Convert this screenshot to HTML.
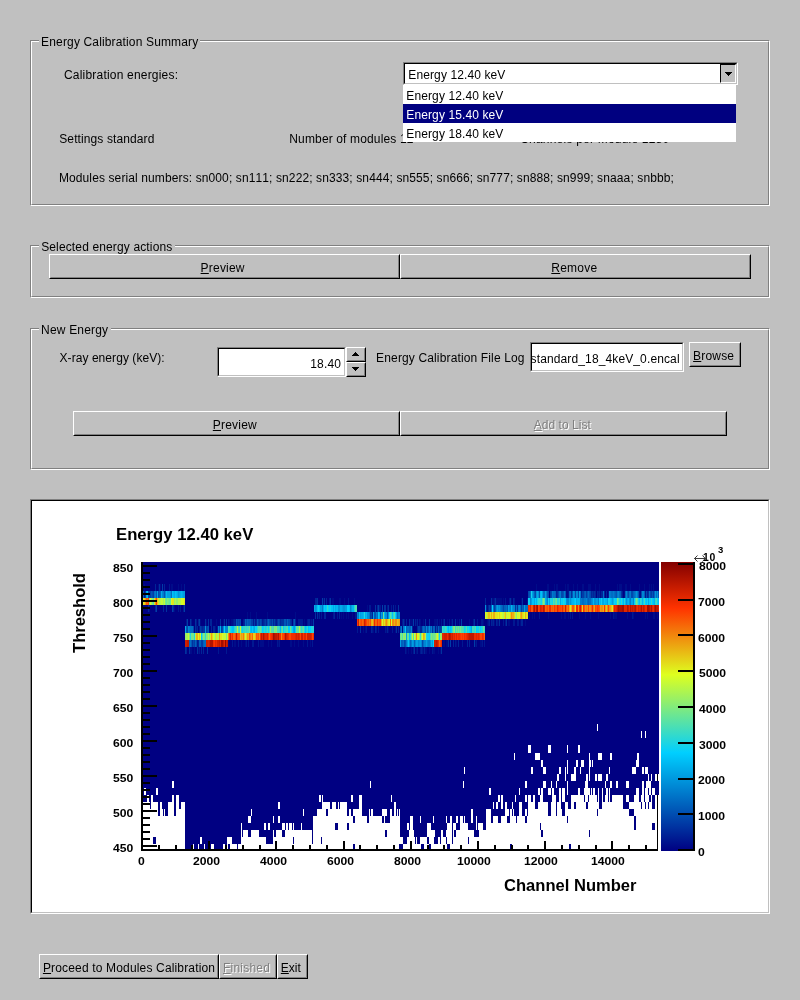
<!DOCTYPE html>
<html><head><meta charset="utf-8"><title>Energy Calibration</title>
<style>
html,body{margin:0;padding:0}
body{width:800px;height:1000px;background:#c0c0c0;position:relative;overflow:hidden;
 font-family:"Liberation Sans",sans-serif;font-size:12px;color:#000;font-kerning:none;font-variant-ligatures:none;text-rendering:optimizeSpeed}
#w{position:absolute;left:0;top:0;width:800px;height:1000px;will-change:transform}
.t{position:absolute;white-space:nowrap}
.grp{position:absolute;box-sizing:border-box;border:1px solid #808080;border-right-color:#fff;border-bottom-color:#fff}
.grp:before{content:"";position:absolute;left:0;top:0;right:0;bottom:0;border:1px solid #fff;border-right-color:#808080;border-bottom-color:#808080}
.gap{position:absolute;background:#c0c0c0;height:2px}
.btn{position:absolute;box-sizing:border-box;border:1px solid #fff;border-right-color:#000;border-bottom-color:#000}
.btn:before{content:"";position:absolute;left:0;top:0;right:0;bottom:0;border:1px solid #c0c0c0;border-right-color:#808080;border-bottom-color:#808080}
.dis{color:#808080;text-shadow:1px 1px 0 #fff}
u{text-decoration:underline;text-decoration-thickness:1px;text-underline-offset:1px;text-decoration-skip-ink:none}
.sunk{position:absolute;box-sizing:border-box;border:1px solid #808080;border-right-color:#fff;border-bottom-color:#fff;background:#fff}
.sunk:before{content:"";position:absolute;left:0;top:0;right:0;bottom:0;border:1px solid #000;border-right-color:#c0c0c0;border-bottom-color:#c0c0c0}
</style></head><body><div id="w">

<div class="grp" style="left:30px;top:40px;width:740px;height:166px"></div>
<div class="gap" style="left:39px;top:40px;width:161px"></div>
<div class="t" style="left:41.12px;top:35px;font-size:12px;line-height:14px;height:14px;letter-spacing:0.149px;">Energy Calibration Summary</div>
<div class="t" style="left:63.99px;top:68px;font-size:12px;line-height:14px;height:14px;letter-spacing:0.198px;">Calibration energies:</div>
<div class="t" style="left:59.26px;top:132px;font-size:12px;line-height:14px;height:14px;letter-spacing:0.105px;">Settings standard</div>
<div class="t" style="left:289.32px;top:132px;font-size:12px;line-height:14px;height:14px;letter-spacing:0.140px;">Number of modules 12</div>
<div class="t" style="left:520.19px;top:132px;font-size:12px;line-height:14px;height:14px;letter-spacing:0.214px;">Channels per Module 1280</div>
<div class="t" style="left:58.92px;top:171px;font-size:12px;line-height:14px;height:14px;letter-spacing:0.112px;">Modules serial numbers: sn000; sn111; sn222; sn333; sn444; sn555; sn666; sn777; sn888; sn999; snaaa; snbbb;</div>
<div class="sunk" style="left:403px;top:62px;width:335px;height:23px"></div>
<div class="t" style="left:408.32px;top:68px;font-size:12px;line-height:14px;height:14px;letter-spacing:0.110px;">Energy 12.40 keV</div>
<div style="position:absolute;left:720px;top:64px;width:16px;height:19px;box-sizing:border-box;background:#c0c0c0;border:1px solid #000;border-right-color:#fff;border-bottom-color:#fff"></div>
<svg style="position:absolute;left:725px;top:72px" width="7" height="4" shape-rendering="crispEdges"><path d="M0 0h7v1h-1v1h-1v1h-1v1h-1v-1h-1v-1h-1v-1h-1z" fill="#000"/></svg>
<div style="position:absolute;left:403px;top:85px;width:333px;height:57px;background:#fff"></div>
<div style="position:absolute;left:403px;top:104px;width:333px;height:19px;background:#000080"></div>
<div class="t" style="left:406.32px;top:89px;font-size:12px;line-height:14px;height:14px;letter-spacing:0.110px;">Energy 12.40 keV</div>
<div class="t" style="left:406.32px;top:108px;font-size:12px;line-height:14px;height:14px;letter-spacing:0.110px;color:#fff;">Energy 15.40 keV</div>
<div class="t" style="left:406.32px;top:127px;font-size:12px;line-height:14px;height:14px;letter-spacing:0.110px;">Energy 18.40 keV</div>
<div class="grp" style="left:30px;top:245px;width:740px;height:53px"></div>
<div class="gap" style="left:39px;top:245px;width:136px"></div>
<div class="t" style="left:41.16px;top:240px;font-size:12px;line-height:14px;height:14px;letter-spacing:0.137px;">Selected energy actions</div>
<div class="btn " style="left:49px;top:254px;width:351px;height:25px"></div>
<div class="btn " style="left:400px;top:254px;width:351px;height:25px"></div>
<div class="t" style="left:200.62px;top:261px;font-size:12px;line-height:14px;height:14px;letter-spacing:0.199px;"><u>P</u>review</div>
<div class="t" style="left:551.32px;top:261px;font-size:12px;line-height:14px;height:14px;letter-spacing:0.229px;"><u>R</u>emove</div>
<div class="grp" style="left:30px;top:328px;width:740px;height:142px"></div>
<div class="gap" style="left:39px;top:328px;width:72px"></div>
<div class="t" style="left:41.12px;top:323px;font-size:12px;line-height:14px;height:14px;letter-spacing:0.174px;">New Energy</div>
<div class="t" style="left:59.53px;top:351px;font-size:12px;line-height:14px;height:14px;letter-spacing:0.061px;">X-ray energy (keV):</div>
<div class="sunk" style="left:217px;top:347px;width:129px;height:30px"></div>
<div class="t" style="left:310.19px;top:357px;font-size:12px;line-height:14px;height:14px;letter-spacing:0.204px;">18.40</div>
<div class="btn " style="left:346px;top:347px;width:20px;height:15px"></div>
<div class="btn " style="left:346px;top:362px;width:20px;height:15px"></div>
<svg style="position:absolute;left:352px;top:352px" width="7" height="4" shape-rendering="crispEdges"><path d="M3 0h1v1h1v1h1v1h1v1h-7v-1h1v-1h1v-1h1z" fill="#000"/></svg>
<svg style="position:absolute;left:352px;top:367px" width="7" height="4" shape-rendering="crispEdges"><path d="M0 0h7v1h-1v1h-1v1h-1v1h-1v-1h-1v-1h-1v-1h-1z" fill="#000"/></svg>
<div class="t" style="left:376.12px;top:351px;font-size:12px;line-height:14px;height:14px;letter-spacing:0.140px;">Energy Calibration File Log</div>
<div class="sunk" style="left:530px;top:342px;width:154px;height:30px"></div>
<div style="position:absolute;left:532px;top:344px;width:150px;height:26px;overflow:hidden">
<div class="t" style="left:-1.43px;top:8px;font-size:12px;line-height:14px;height:14px;letter-spacing:0.125px;">standard_18_4keV_0.encal</div>
</div>
<div class="btn " style="left:689px;top:342px;width:52px;height:25px"></div>
<div class="t" style="left:693.12px;top:349px;font-size:12px;line-height:14px;height:14px;letter-spacing:0.174px;"><u>B</u>rowse</div>
<div class="btn " style="left:73px;top:411px;width:327px;height:25px"></div>
<div class="btn " style="left:400px;top:411px;width:327px;height:25px"></div>
<div class="t" style="left:212.82px;top:418px;font-size:12px;line-height:14px;height:14px;letter-spacing:0.199px;"><u>P</u>review</div>
<div class="t dis" style="left:533.78px;top:418px;font-size:12px;line-height:14px;height:14px;letter-spacing:0.037px;"><u>A</u>dd to List</div>
<div class="sunk" style="left:30px;top:499px;width:740px;height:415px"></div>
<svg width="800" height="1000" style="position:absolute;left:0;top:0" shape-rendering="crispEdges">
<defs><linearGradient id="cb" x1="0" y1="1" x2="0" y2="0">
<stop offset="0" stop-color="#000082"/>
<stop offset="0.34" stop-color="#00cfff"/>
<stop offset="0.61" stop-color="#deff1f"/>
<stop offset="0.84" stop-color="#ff3300"/>
<stop offset="1" stop-color="#820000"/>
</linearGradient></defs>
<rect x="142" y="562" width="517" height="289" fill="#000082"/>
<path fill="#000c89" d="M144 584h1v7h-1zM158 584h1v7h-1zM160 584h1v7h-1zM171 584h2v7h-2zM178 584h1v7h-1zM181 584h1v7h-1zM536 584h1v7h-1zM547 584h2v7h-2zM554 584h1v7h-1zM556 584h2v7h-2zM565 584h1v7h-1zM567 584h2v7h-2zM573 584h1v7h-1zM577 584h1v7h-1zM582 584h2v7h-2zM588 584h3v7h-3zM595 584h1v7h-1zM599 584h1v7h-1zM617 584h1v7h-1zM619 584h3v7h-3zM625 584h2v7h-2zM630 584h1v7h-1zM639 584h1v7h-1zM644 584h1v7h-1zM649 584h1v7h-1zM651 584h1v7h-1zM653 584h1v7h-1zM566 591h2v7h-2zM600 591h1v7h-1zM624 591h1v7h-1zM640 591h1v7h-1zM323 598h1v7h-1zM332 598h2v7h-2zM339 598h2v7h-2zM344 598h1v7h-1zM354 598h1v7h-1zM492 598h2v7h-2zM496 598h6v7h-6zM503 598h1v7h-1zM511 598h1v7h-1zM521 598h1v7h-1zM149 605h1v7h-1zM174 605h1v7h-1zM367 605h1v7h-1zM487 605h1v7h-1zM247 612h1v7h-1zM250 612h1v7h-1zM256 612h1v7h-1zM267 612h1v7h-1zM295 612h1v7h-1zM318 612h1v7h-1zM341 612h1v7h-1zM343 612h1v7h-1zM346 612h1v7h-1zM348 612h1v7h-1zM352 612h1v7h-1zM529 612h1v7h-1zM532 612h1v7h-1zM534 612h1v7h-1zM548 612h1v7h-1zM561 612h1v7h-1zM564 612h2v7h-2zM568 612h1v7h-1zM579 612h1v7h-1zM585 612h1v7h-1zM590 612h1v7h-1zM598 612h1v7h-1zM610 612h1v7h-1zM614 612h3v7h-3zM627 612h1v7h-1zM633 612h1v7h-1zM645 612h1v7h-1zM647 612h1v7h-1zM653 612h2v7h-2zM657 612h1v7h-1zM200 619h1v7h-1zM206 619h1v7h-1zM216 619h1v7h-1zM223 619h1v7h-1zM229 619h1v7h-1zM231 619h2v7h-2zM304 619h1v7h-1zM310 619h1v7h-1zM312 619h1v7h-1zM410 619h3v7h-3zM416 619h1v7h-1zM420 619h1v7h-1zM423 619h1v7h-1zM434 619h3v7h-3zM439 619h1v7h-1zM447 619h1v7h-1zM451 619h1v7h-1zM457 619h1v7h-1zM469 619h1v7h-1zM483 619h1v7h-1zM487 619h1v7h-1zM494 619h1v7h-1zM498 619h1v7h-1zM508 619h2v7h-2zM520 619h1v7h-1zM525 619h1v7h-1zM215 626h1v7h-1zM363 626h1v7h-1zM365 626h1v7h-1zM373 626h1v7h-1zM386 626h1v7h-1zM388 626h1v7h-1zM395 626h1v7h-1zM402 626h1v7h-1zM228 640h1v7h-1zM234 640h2v7h-2zM241 640h1v7h-1zM245 640h1v7h-1zM260 640h4v7h-4zM268 640h1v7h-1zM271 640h1v7h-1zM278 640h1v7h-1zM290 640h2v7h-2zM294 640h1v7h-1zM298 640h1v7h-1zM303 640h1v7h-1zM310 640h1v7h-1zM443 640h2v7h-2zM446 640h2v7h-2zM456 640h1v7h-1zM475 640h1v7h-1zM480 640h2v7h-2zM190 647h2v7h-2zM194 647h1v7h-1zM198 647h1v7h-1zM406 647h1v7h-1zM408 647h1v7h-1zM411 647h1v7h-1zM416 647h1v7h-1zM423 647h1v7h-1zM425 647h2v7h-2zM429 647h1v7h-1zM433 647h2v7h-2zM438 647h1v7h-1zM440 647h1v7h-1z"/>
<path fill="#002498" d="M155 584h1v7h-1zM164 584h1v7h-1zM556 591h1v7h-1zM581 591h1v7h-1zM591 591h1v7h-1zM593 591h1v7h-1zM595 591h1v7h-1zM597 591h1v7h-1zM599 591h1v7h-1zM601 591h2v7h-2zM604 591h1v7h-1zM606 591h1v7h-1zM647 591h1v7h-1zM315 598h2v7h-2zM326 598h1v7h-1zM485 598h1v7h-1zM513 598h1v7h-1zM148 605h1v7h-1zM155 605h1v7h-1zM163 605h1v7h-1zM173 605h1v7h-1zM377 605h1v7h-1zM393 605h1v7h-1zM486 605h1v7h-1zM488 605h1v7h-1zM490 605h1v7h-1zM319 612h1v7h-1zM324 612h2v7h-2zM334 612h1v7h-1zM339 612h1v7h-1zM372 612h1v7h-1zM198 619h1v7h-1zM210 619h2v7h-2zM234 619h1v7h-1zM244 619h1v7h-1zM256 619h1v7h-1zM263 619h1v7h-1zM266 619h1v7h-1zM273 619h1v7h-1zM275 619h1v7h-1zM280 619h1v7h-1zM291 619h1v7h-1zM295 619h1v7h-1zM308 619h2v7h-2zM406 619h1v7h-1zM415 619h1v7h-1zM417 619h1v7h-1zM452 619h1v7h-1zM489 619h1v7h-1zM491 619h1v7h-1zM493 619h1v7h-1zM496 619h1v7h-1zM521 619h2v7h-2zM197 626h1v7h-1zM202 626h1v7h-1zM211 626h1v7h-1zM213 626h2v7h-2zM371 626h1v7h-1zM375 626h1v7h-1zM387 626h1v7h-1zM398 626h1v7h-1zM412 626h1v7h-1zM417 626h1v7h-1zM420 626h2v7h-2zM437 626h1v7h-1zM198 640h1v7h-1zM453 640h1v7h-1zM458 640h1v7h-1zM467 640h1v7h-1zM469 640h1v7h-1zM186 647h1v7h-1zM201 647h1v7h-1zM203 647h1v7h-1zM421 647h1v7h-1zM424 647h1v7h-1z"/>
<path fill="#00319f" d="M159 584h1v7h-1zM557 591h1v7h-1zM571 591h1v7h-1zM592 591h1v7h-1zM594 591h1v7h-1zM621 591h1v7h-1zM648 591h1v7h-1zM317 598h1v7h-1zM324 598h1v7h-1zM330 598h1v7h-1zM491 598h1v7h-1zM495 598h1v7h-1zM510 598h1v7h-1zM522 598h1v7h-1zM166 605h1v7h-1zM375 605h1v7h-1zM384 605h2v7h-2zM388 605h1v7h-1zM398 605h1v7h-1zM515 605h1v7h-1zM517 605h1v7h-1zM315 612h1v7h-1zM317 612h1v7h-1zM190 619h1v7h-1zM195 619h1v7h-1zM205 619h1v7h-1zM208 619h1v7h-1zM220 619h1v7h-1zM224 619h1v7h-1zM226 619h1v7h-1zM259 619h1v7h-1zM264 619h1v7h-1zM271 619h1v7h-1zM277 619h1v7h-1zM281 619h3v7h-3zM290 619h1v7h-1zM403 619h1v7h-1zM409 619h1v7h-1zM425 619h1v7h-1zM429 619h1v7h-1zM444 619h1v7h-1zM455 619h1v7h-1zM474 619h1v7h-1zM499 619h1v7h-1zM506 619h1v7h-1zM195 626h1v7h-1zM201 626h1v7h-1zM203 626h2v7h-2zM360 626h1v7h-1zM396 626h1v7h-1zM432 626h1v7h-1zM192 640h1v7h-1zM448 640h1v7h-1zM185 647h1v7h-1zM189 647h1v7h-1zM197 647h1v7h-1zM207 647h1v7h-1zM414 647h1v7h-1zM441 647h1v7h-1z"/>
<path fill="#003da7" d="M162 584h1v7h-1zM145 591h1v7h-1zM149 591h2v7h-2zM153 591h1v7h-1zM550 591h1v7h-1zM582 591h2v7h-2zM586 591h1v7h-1zM651 591h1v7h-1zM653 591h1v7h-1zM322 598h1v7h-1zM156 605h1v7h-1zM172 605h1v7h-1zM184 605h1v7h-1zM378 605h1v7h-1zM382 605h1v7h-1zM489 605h1v7h-1zM494 605h1v7h-1zM521 605h1v7h-1zM370 612h1v7h-1zM187 619h1v7h-1zM199 619h1v7h-1zM237 619h1v7h-1zM239 619h1v7h-1zM251 619h2v7h-2zM254 619h1v7h-1zM258 619h1v7h-1zM261 619h1v7h-1zM265 619h1v7h-1zM270 619h1v7h-1zM274 619h1v7h-1zM279 619h1v7h-1zM286 619h1v7h-1zM293 619h1v7h-1zM313 619h1v7h-1zM413 619h1v7h-1zM461 619h1v7h-1zM200 626h1v7h-1zM206 626h1v7h-1zM221 626h1v7h-1zM418 626h2v7h-2zM439 626h2v7h-2zM194 640h1v7h-1zM201 640h2v7h-2zM450 640h1v7h-1zM474 640h1v7h-1z"/>
<path fill="#001891" d="M169 584h1v7h-1zM184 584h1v7h-1zM144 591h1v7h-1zM568 591h1v7h-1zM598 591h1v7h-1zM608 591h1v7h-1zM622 591h1v7h-1zM639 591h1v7h-1zM645 591h1v7h-1zM329 598h1v7h-1zM348 598h1v7h-1zM494 598h1v7h-1zM505 598h1v7h-1zM509 598h1v7h-1zM514 598h1v7h-1zM527 598h1v7h-1zM178 605h1v7h-1zM180 605h1v7h-1zM183 605h1v7h-1zM369 605h2v7h-2zM379 605h2v7h-2zM387 605h1v7h-1zM391 605h1v7h-1zM395 605h1v7h-1zM321 612h1v7h-1zM333 612h1v7h-1zM337 612h1v7h-1zM355 612h2v7h-2zM539 612h1v7h-1zM570 612h1v7h-1zM572 612h1v7h-1zM613 612h1v7h-1zM632 612h1v7h-1zM186 619h1v7h-1zM191 619h1v7h-1zM196 619h1v7h-1zM228 619h1v7h-1zM233 619h1v7h-1zM235 619h1v7h-1zM243 619h1v7h-1zM253 619h1v7h-1zM255 619h1v7h-1zM262 619h1v7h-1zM276 619h1v7h-1zM298 619h5v7h-5zM307 619h1v7h-1zM311 619h1v7h-1zM402 619h1v7h-1zM404 619h1v7h-1zM419 619h1v7h-1zM437 619h1v7h-1zM441 619h1v7h-1zM443 619h1v7h-1zM449 619h1v7h-1zM459 619h1v7h-1zM473 619h1v7h-1zM477 619h1v7h-1zM481 619h2v7h-2zM488 619h1v7h-1zM492 619h1v7h-1zM497 619h1v7h-1zM503 619h1v7h-1zM505 619h1v7h-1zM513 619h2v7h-2zM517 619h2v7h-2zM196 626h1v7h-1zM199 626h1v7h-1zM217 626h1v7h-1zM357 626h1v7h-1zM366 626h1v7h-1zM372 626h1v7h-1zM376 626h1v7h-1zM378 626h1v7h-1zM385 626h1v7h-1zM392 626h1v7h-1zM435 626h1v7h-1zM197 640h1v7h-1zM232 640h1v7h-1zM238 640h1v7h-1zM246 640h1v7h-1zM248 640h1v7h-1zM252 640h2v7h-2zM258 640h1v7h-1zM277 640h1v7h-1zM279 640h1v7h-1zM307 640h1v7h-1zM312 640h1v7h-1zM455 640h1v7h-1zM462 640h1v7h-1zM476 640h1v7h-1zM482 640h1v7h-1zM484 640h1v7h-1zM199 647h1v7h-1zM218 647h1v7h-1zM226 647h1v7h-1zM405 647h1v7h-1zM413 647h1v7h-1zM417 647h1v7h-1zM420 647h1v7h-1zM422 647h1v7h-1zM432 647h1v7h-1z"/>
<path fill="#009ee2" d="M142 591h1v7h-1zM157 591h1v7h-1zM167 591h3v7h-3zM179 591h1v7h-1zM183 591h2v7h-2zM532 591h1v7h-1zM542 591h1v7h-1zM545 591h1v7h-1zM579 591h1v7h-1zM531 598h1v7h-1zM546 598h1v7h-1zM596 598h2v7h-2zM607 598h1v7h-1zM612 598h1v7h-1zM316 605h1v7h-1zM320 605h2v7h-2zM342 605h1v7h-1zM345 605h2v7h-2zM351 605h1v7h-1zM497 605h1v7h-1zM508 605h1v7h-1zM524 605h1v7h-1zM360 612h1v7h-1zM373 612h1v7h-1zM381 612h1v7h-1zM396 612h1v7h-1zM294 626h1v7h-1zM406 633h1v7h-1zM400 640h1v7h-1zM407 640h1v7h-1zM412 640h1v7h-1zM416 640h2v7h-2zM420 640h1v7h-1zM426 640h1v7h-1zM432 640h1v7h-1z"/>
<path fill="#0055b6" d="M143 591h1v7h-1zM151 591h1v7h-1zM156 591h1v7h-1zM159 591h1v7h-1zM164 591h1v7h-1zM529 591h1v7h-1zM539 591h1v7h-1zM547 591h1v7h-1zM563 591h1v7h-1zM565 591h1v7h-1zM572 591h1v7h-1zM584 591h1v7h-1zM587 591h1v7h-1zM589 591h1v7h-1zM616 591h1v7h-1zM638 591h1v7h-1zM652 591h1v7h-1zM658 591h1v7h-1zM495 605h1v7h-1zM507 605h1v7h-1zM523 605h1v7h-1zM374 612h2v7h-2zM380 612h1v7h-1zM387 612h1v7h-1zM236 619h1v7h-1zM248 619h3v7h-3zM257 619h1v7h-1zM284 619h2v7h-2zM294 619h1v7h-1zM186 626h1v7h-1zM208 626h1v7h-1zM219 626h1v7h-1zM400 626h1v7h-1zM422 626h1v7h-1zM427 626h1v7h-1zM191 640h1v7h-1zM405 640h1v7h-1z"/>
<path fill="#00aae9" d="M146 591h1v7h-1zM161 591h1v7h-1zM174 591h1v7h-1zM177 591h1v7h-1zM180 591h1v7h-1zM182 591h1v7h-1zM537 591h1v7h-1zM534 598h1v7h-1zM549 598h1v7h-1zM560 598h1v7h-1zM569 598h1v7h-1zM571 598h1v7h-1zM576 598h1v7h-1zM602 598h2v7h-2zM627 598h1v7h-1zM631 598h2v7h-2zM648 598h1v7h-1zM314 605h1v7h-1zM323 605h1v7h-1zM333 605h1v7h-1zM335 605h1v7h-1zM340 605h2v7h-2zM361 612h2v7h-2zM365 612h1v7h-1zM379 612h1v7h-1zM185 626h1v7h-1zM220 626h1v7h-1zM254 626h1v7h-1zM293 626h1v7h-1zM471 626h1v7h-1z"/>
<path fill="#00c2f8" d="M147 591h1v7h-1zM172 591h1v7h-1zM175 591h1v7h-1zM541 591h1v7h-1zM532 598h2v7h-2zM574 598h1v7h-1zM599 598h1v7h-1zM604 598h1v7h-1zM610 598h1v7h-1zM639 598h1v7h-1zM646 598h1v7h-1zM653 598h1v7h-1zM658 598h1v7h-1zM317 605h1v7h-1zM319 605h1v7h-1zM325 605h1v7h-1zM331 605h2v7h-2zM334 605h1v7h-1zM349 605h1v7h-1zM359 612h1v7h-1zM378 612h1v7h-1zM392 612h1v7h-1zM232 626h2v7h-2zM250 626h1v7h-1zM305 626h1v7h-1zM308 626h1v7h-1zM405 626h1v7h-1zM450 626h1v7h-1zM470 626h1v7h-1zM201 633h1v7h-1zM409 633h1v7h-1zM408 640h1v7h-1z"/>
<path fill="#0049ae" d="M148 591h1v7h-1zM152 591h1v7h-1zM158 591h1v7h-1zM528 591h1v7h-1zM535 591h1v7h-1zM548 591h1v7h-1zM551 591h1v7h-1zM558 591h1v7h-1zM561 591h2v7h-2zM575 591h1v7h-1zM578 591h1v7h-1zM590 591h1v7h-1zM628 591h1v7h-1zM631 591h2v7h-2zM641 591h1v7h-1zM646 591h1v7h-1zM650 591h1v7h-1zM503 605h1v7h-1zM371 612h1v7h-1zM238 619h1v7h-1zM240 619h1v7h-1zM246 619h1v7h-1zM260 619h1v7h-1zM267 619h1v7h-1zM269 619h1v7h-1zM272 619h1v7h-1zM278 619h1v7h-1zM288 619h2v7h-2zM187 626h1v7h-1zM193 626h1v7h-1zM207 626h1v7h-1zM222 626h1v7h-1zM425 626h1v7h-1zM436 626h1v7h-1zM441 626h1v7h-1zM193 640h1v7h-1zM196 640h1v7h-1zM404 640h1v7h-1zM422 640h1v7h-1z"/>
<path fill="#006dc4" d="M154 591h1v7h-1zM171 591h1v7h-1zM530 591h1v7h-1zM543 591h2v7h-2zM553 591h2v7h-2zM559 591h1v7h-1zM570 591h1v7h-1zM588 591h1v7h-1zM603 591h1v7h-1zM611 591h2v7h-2zM614 591h1v7h-1zM619 591h1v7h-1zM629 591h1v7h-1zM634 591h1v7h-1zM649 591h1v7h-1zM656 591h1v7h-1zM582 598h2v7h-2zM587 598h1v7h-1zM589 598h2v7h-2zM493 605h1v7h-1zM501 605h1v7h-1zM506 605h1v7h-1zM516 605h1v7h-1zM520 605h1v7h-1zM525 605h3v7h-3zM377 612h1v7h-1zM397 612h1v7h-1zM190 626h3v7h-3zM407 626h2v7h-2zM423 626h1v7h-1zM428 626h1v7h-1zM190 640h1v7h-1zM204 640h2v7h-2zM403 640h1v7h-1zM423 640h1v7h-1z"/>
<path fill="#007acc" d="M155 591h1v7h-1zM163 591h1v7h-1zM546 591h1v7h-1zM552 591h1v7h-1zM560 591h1v7h-1zM564 591h1v7h-1zM580 591h1v7h-1zM610 591h1v7h-1zM613 591h1v7h-1zM617 591h1v7h-1zM630 591h1v7h-1zM635 591h1v7h-1zM637 591h1v7h-1zM580 598h2v7h-2zM584 598h2v7h-2zM598 598h1v7h-1zM630 598h1v7h-1zM322 605h1v7h-1zM500 605h1v7h-1zM510 605h1v7h-1zM518 605h1v7h-1zM358 612h1v7h-1zM369 612h1v7h-1zM376 612h1v7h-1zM189 626h1v7h-1zM218 626h1v7h-1zM401 626h1v7h-1zM403 626h1v7h-1zM431 626h1v7h-1zM406 640h1v7h-1zM411 640h1v7h-1zM428 640h2v7h-2z"/>
<path fill="#0061bd" d="M160 591h1v7h-1zM534 591h1v7h-1zM555 591h1v7h-1zM569 591h1v7h-1zM585 591h1v7h-1zM615 591h1v7h-1zM620 591h1v7h-1zM625 591h1v7h-1zM627 591h1v7h-1zM633 591h1v7h-1zM644 591h1v7h-1zM654 591h1v7h-1zM588 598h1v7h-1zM491 605h1v7h-1zM502 605h1v7h-1zM504 605h2v7h-2zM522 605h1v7h-1zM245 619h1v7h-1zM247 619h1v7h-1zM268 619h1v7h-1zM287 619h1v7h-1zM406 626h1v7h-1zM409 626h2v7h-2zM424 626h1v7h-1zM430 626h1v7h-1zM433 626h2v7h-2zM438 626h1v7h-1zM189 640h1v7h-1zM195 640h1v7h-1zM199 640h2v7h-2zM203 640h1v7h-1zM401 640h2v7h-2zM410 640h1v7h-1zM414 640h1v7h-1z"/>
<path fill="#0086d3" d="M162 591h1v7h-1zM165 591h1v7h-1zM533 591h1v7h-1zM574 591h1v7h-1zM576 591h2v7h-2zM609 591h1v7h-1zM618 591h1v7h-1zM626 591h1v7h-1zM642 591h2v7h-2zM530 598h1v7h-1zM547 598h1v7h-1zM567 598h2v7h-2zM586 598h1v7h-1zM591 598h1v7h-1zM633 598h1v7h-1zM350 605h1v7h-1zM496 605h1v7h-1zM498 605h1v7h-1zM509 605h1v7h-1zM513 605h2v7h-2zM519 605h1v7h-1zM357 612h1v7h-1zM382 612h1v7h-1zM398 612h2v7h-2zM188 626h1v7h-1zM223 626h1v7h-1zM225 626h3v7h-3zM404 626h1v7h-1zM411 626h1v7h-1zM426 626h1v7h-1zM415 640h1v7h-1zM418 640h1v7h-1zM421 640h1v7h-1zM424 640h2v7h-2zM427 640h1v7h-1z"/>
<path fill="#00b6f0" d="M166 591h1v7h-1zM173 591h1v7h-1zM176 591h1v7h-1zM181 591h1v7h-1zM540 591h1v7h-1zM536 598h1v7h-1zM545 598h1v7h-1zM572 598h2v7h-2zM577 598h3v7h-3zM593 598h1v7h-1zM600 598h1v7h-1zM605 598h2v7h-2zM611 598h1v7h-1zM613 598h1v7h-1zM623 598h1v7h-1zM625 598h1v7h-1zM628 598h1v7h-1zM642 598h1v7h-1zM654 598h1v7h-1zM336 605h2v7h-2zM352 605h2v7h-2zM511 605h1v7h-1zM363 612h1v7h-1zM366 612h1v7h-1zM384 612h1v7h-1zM251 626h1v7h-1zM253 626h1v7h-1zM280 626h1v7h-1zM448 626h1v7h-1zM431 640h1v7h-1z"/>
<path fill="#0092da" d="M170 591h1v7h-1zM178 591h1v7h-1zM536 591h1v7h-1zM538 591h1v7h-1zM573 591h1v7h-1zM636 591h1v7h-1zM655 591h1v7h-1zM657 591h1v7h-1zM566 598h1v7h-1zM570 598h1v7h-1zM592 598h1v7h-1zM594 598h2v7h-2zM626 598h1v7h-1zM629 598h1v7h-1zM315 605h1v7h-1zM338 605h2v7h-2zM343 605h2v7h-2zM485 605h1v7h-1zM499 605h1v7h-1zM512 605h1v7h-1zM367 612h2v7h-2zM385 612h2v7h-2zM388 612h1v7h-1zM205 626h1v7h-1zM429 626h1v7h-1zM409 640h1v7h-1zM413 640h1v7h-1zM419 640h1v7h-1zM430 640h1v7h-1z"/>
<path fill="#10d2ee" d="M531 591h1v7h-1zM528 598h1v7h-1zM537 598h1v7h-1zM541 598h1v7h-1zM548 598h1v7h-1zM552 598h1v7h-1zM561 598h1v7h-1zM564 598h1v7h-1zM601 598h1v7h-1zM608 598h2v7h-2zM614 598h1v7h-1zM616 598h1v7h-1zM638 598h1v7h-1zM643 598h1v7h-1zM647 598h1v7h-1zM657 598h1v7h-1zM318 605h1v7h-1zM328 605h1v7h-1zM330 605h1v7h-1zM389 612h1v7h-1zM242 626h1v7h-1zM255 626h1v7h-1zM263 626h1v7h-1zM265 626h1v7h-1zM268 626h1v7h-1zM306 626h1v7h-1zM449 626h1v7h-1zM464 626h1v7h-1zM467 626h1v7h-1zM477 626h2v7h-2zM427 633h2v7h-2zM439 633h1v7h-1z"/>
<path fill="#e2e41b" d="M142 598h2v7h-2zM154 598h1v7h-1zM158 598h1v7h-1zM172 598h2v7h-2zM184 598h1v7h-1zM570 605h1v7h-1zM612 605h1v7h-1zM487 612h1v7h-1zM490 612h1v7h-1zM492 612h1v7h-1zM495 612h3v7h-3zM504 612h1v7h-1zM523 612h1v7h-1zM526 612h2v7h-2zM384 619h1v7h-1zM388 619h1v7h-1zM210 633h1v7h-1zM216 633h1v7h-1zM220 633h2v7h-2z"/>
<path fill="#e5d318" d="M144 598h1v7h-1zM575 605h1v7h-1zM582 605h1v7h-1zM499 612h1v7h-1zM510 612h1v7h-1zM514 612h1v7h-1zM522 612h1v7h-1zM212 633h1v7h-1zM246 633h1v7h-1zM253 633h2v7h-2z"/>
<path fill="#ee9d10" d="M145 598h1v7h-1zM155 598h1v7h-1zM594 605h1v7h-1zM600 605h1v7h-1zM605 605h1v7h-1zM610 605h1v7h-1zM521 612h1v7h-1zM399 619h1v7h-1zM211 633h1v7h-1zM219 633h1v7h-1zM241 633h1v7h-1zM247 633h1v7h-1zM251 633h1v7h-1z"/>
<path fill="#f95605" d="M146 598h1v7h-1zM531 605h2v7h-2zM546 605h1v7h-1zM552 605h1v7h-1zM555 605h2v7h-2zM561 605h1v7h-1zM563 605h1v7h-1zM566 605h1v7h-1zM568 605h1v7h-1zM572 605h2v7h-2zM581 605h1v7h-1zM584 605h1v7h-1zM596 605h1v7h-1zM599 605h1v7h-1zM360 619h1v7h-1zM363 619h1v7h-1zM368 619h1v7h-1zM370 619h1v7h-1zM379 619h1v7h-1zM238 633h2v7h-2zM249 633h1v7h-1zM256 633h1v7h-1zM258 633h1v7h-1z"/>
<path fill="#f66808" d="M147 598h1v7h-1zM545 605h1v7h-1zM548 605h1v7h-1zM551 605h1v7h-1zM553 605h1v7h-1zM564 605h1v7h-1zM591 605h1v7h-1zM613 605h1v7h-1zM362 619h1v7h-1zM367 619h1v7h-1zM375 619h2v7h-2zM378 619h1v7h-1zM390 619h1v7h-1zM233 633h2v7h-2zM252 633h1v7h-1zM257 633h1v7h-1zM269 633h1v7h-1zM484 633h1v7h-1zM439 640h1v7h-1z"/>
<path fill="#fc4503" d="M148 598h1v7h-1zM156 598h1v7h-1zM538 605h1v7h-1zM547 605h1v7h-1zM559 605h2v7h-2zM588 605h1v7h-1zM595 605h1v7h-1zM598 605h1v7h-1zM608 605h1v7h-1zM361 619h1v7h-1zM366 619h1v7h-1zM380 619h1v7h-1zM231 633h1v7h-1zM235 633h1v7h-1zM237 633h1v7h-1zM282 633h2v7h-2zM289 633h2v7h-2zM300 633h1v7h-1zM306 633h1v7h-1zM312 633h1v7h-1zM461 633h1v7h-1zM463 633h1v7h-1zM480 633h2v7h-2zM440 640h1v7h-1z"/>
<path fill="#73e88b" d="M149 598h1v7h-1zM165 598h1v7h-1zM168 598h1v7h-1zM617 598h1v7h-1zM636 598h1v7h-1zM275 626h1v7h-1zM453 626h1v7h-1zM456 626h1v7h-1zM458 626h1v7h-1zM460 626h1v7h-1zM191 633h3v7h-3zM204 633h1v7h-1zM411 633h1v7h-1zM433 633h2v7h-2z"/>
<path fill="#d6fd27" d="M150 598h1v7h-1zM181 598h2v7h-2zM501 612h1v7h-1zM519 612h1v7h-1zM524 612h1v7h-1zM382 619h1v7h-1zM391 619h1v7h-1zM200 633h1v7h-1zM213 633h1v7h-1zM222 633h1v7h-1zM414 633h1v7h-1zM422 633h1v7h-1z"/>
<path fill="#a4f259" d="M151 598h1v7h-1zM159 598h1v7h-1zM163 598h1v7h-1zM186 633h2v7h-2zM415 633h1v7h-1zM419 633h1v7h-1zM421 633h1v7h-1zM440 633h1v7h-1z"/>
<path fill="#83eb7a" d="M152 598h1v7h-1zM167 598h1v7h-1zM543 598h1v7h-1zM274 626h1v7h-1zM276 626h1v7h-1zM189 633h1v7h-1zM203 633h1v7h-1zM206 633h2v7h-2zM209 633h1v7h-1zM226 633h1v7h-1zM401 633h1v7h-1zM404 633h1v7h-1zM431 633h1v7h-1zM435 633h1v7h-1zM438 633h1v7h-1z"/>
<path fill="#52e0ac" d="M153 598h1v7h-1zM542 598h1v7h-1zM553 598h1v7h-1zM555 598h1v7h-1zM618 598h1v7h-1zM637 598h1v7h-1zM355 605h2v7h-2zM390 612h1v7h-1zM394 612h1v7h-1zM228 626h1v7h-1zM236 626h1v7h-1zM238 626h1v7h-1zM258 626h2v7h-2zM271 626h2v7h-2zM287 626h1v7h-1zM302 626h1v7h-1zM457 626h1v7h-1zM459 626h1v7h-1zM461 626h2v7h-2zM466 626h1v7h-1zM475 626h1v7h-1zM402 633h1v7h-1zM413 633h1v7h-1zM430 633h1v7h-1z"/>
<path fill="#e8c115" d="M157 598h1v7h-1zM606 605h1v7h-1zM611 605h1v7h-1zM488 612h2v7h-2zM505 612h1v7h-1zM520 612h1v7h-1zM372 619h1v7h-1zM383 619h1v7h-1zM387 619h1v7h-1zM397 619h1v7h-1zM199 633h1v7h-1zM240 633h1v7h-1zM244 633h1v7h-1zM424 633h1v7h-1z"/>
<path fill="#b5f648" d="M160 598h1v7h-1zM175 598h1v7h-1zM178 598h3v7h-3zM486 612h1v7h-1zM503 612h1v7h-1zM506 612h1v7h-1zM515 612h1v7h-1zM237 626h1v7h-1zM299 626h1v7h-1zM195 633h1v7h-1zM208 633h1v7h-1zM217 633h2v7h-2zM425 633h1v7h-1zM436 633h1v7h-1z"/>
<path fill="#c5fa38" d="M161 598h2v7h-2zM164 598h1v7h-1zM502 612h1v7h-1zM508 612h1v7h-1zM518 612h1v7h-1zM240 626h1v7h-1zM188 633h1v7h-1zM214 633h1v7h-1zM223 633h3v7h-3zM227 633h1v7h-1zM245 633h1v7h-1zM412 633h1v7h-1z"/>
<path fill="#63e49b" d="M166 598h1v7h-1zM169 598h2v7h-2zM544 598h1v7h-1zM556 598h1v7h-1zM383 612h1v7h-1zM249 626h1v7h-1zM260 626h1v7h-1zM282 626h1v7h-1zM290 626h1v7h-1zM296 626h3v7h-3zM300 626h1v7h-1zM303 626h1v7h-1zM483 626h1v7h-1zM400 633h1v7h-1zM407 633h2v7h-2zM432 633h1v7h-1z"/>
<path fill="#dff61d" d="M171 598h1v7h-1zM183 598h1v7h-1zM485 612h1v7h-1zM498 612h1v7h-1zM500 612h1v7h-1zM507 612h1v7h-1zM509 612h1v7h-1zM517 612h1v7h-1zM389 619h1v7h-1zM198 633h1v7h-1zM417 633h2v7h-2zM437 633h1v7h-1z"/>
<path fill="#94ef69" d="M174 598h1v7h-1zM176 598h2v7h-2zM516 612h1v7h-1zM270 626h1v7h-1zM454 626h1v7h-1zM185 633h1v7h-1zM215 633h1v7h-1zM403 633h1v7h-1zM405 633h1v7h-1zM441 633h1v7h-1z"/>
<path fill="#00cfff" d="M529 598h1v7h-1zM535 598h1v7h-1zM562 598h1v7h-1zM565 598h1v7h-1zM575 598h1v7h-1zM615 598h1v7h-1zM620 598h1v7h-1zM622 598h1v7h-1zM634 598h1v7h-1zM645 598h1v7h-1zM649 598h2v7h-2zM652 598h1v7h-1zM324 605h1v7h-1zM326 605h1v7h-1zM329 605h1v7h-1zM347 605h2v7h-2zM492 605h1v7h-1zM395 612h1v7h-1zM224 626h1v7h-1zM231 626h1v7h-1zM252 626h1v7h-1zM256 626h1v7h-1zM262 626h1v7h-1zM283 626h1v7h-1zM288 626h2v7h-2zM292 626h1v7h-1zM295 626h1v7h-1zM309 626h2v7h-2zM447 626h1v7h-1zM451 626h1v7h-1zM469 626h1v7h-1zM476 626h1v7h-1zM480 626h1v7h-1zM429 633h1v7h-1zM433 640h1v7h-1z"/>
<path fill="#31d9cd" d="M538 598h2v7h-2zM554 598h1v7h-1zM621 598h1v7h-1zM640 598h1v7h-1zM651 598h1v7h-1zM655 598h1v7h-1zM327 605h1v7h-1zM391 612h1v7h-1zM393 612h1v7h-1zM241 626h1v7h-1zM243 626h2v7h-2zM246 626h1v7h-1zM257 626h1v7h-1zM264 626h1v7h-1zM279 626h1v7h-1zM284 626h2v7h-2zM291 626h1v7h-1zM301 626h1v7h-1zM307 626h1v7h-1zM446 626h1v7h-1zM455 626h1v7h-1zM474 626h1v7h-1zM479 626h1v7h-1zM205 633h1v7h-1zM410 633h1v7h-1z"/>
<path fill="#21d6de" d="M540 598h1v7h-1zM550 598h2v7h-2zM557 598h2v7h-2zM563 598h1v7h-1zM619 598h1v7h-1zM624 598h1v7h-1zM641 598h1v7h-1zM354 605h1v7h-1zM364 612h1v7h-1zM230 626h1v7h-1zM234 626h1v7h-1zM266 626h1v7h-1zM304 626h1v7h-1zM311 626h3v7h-3zM443 626h2v7h-2zM465 626h1v7h-1zM468 626h1v7h-1zM481 626h2v7h-2zM190 633h1v7h-1zM194 633h1v7h-1zM426 633h1v7h-1z"/>
<path fill="#42ddbd" d="M559 598h1v7h-1zM635 598h1v7h-1zM644 598h1v7h-1zM656 598h1v7h-1zM229 626h1v7h-1zM235 626h1v7h-1zM239 626h1v7h-1zM245 626h1v7h-1zM247 626h2v7h-2zM261 626h1v7h-1zM267 626h1v7h-1zM269 626h1v7h-1zM273 626h1v7h-1zM277 626h2v7h-2zM281 626h1v7h-1zM286 626h1v7h-1zM442 626h1v7h-1zM445 626h1v7h-1zM452 626h1v7h-1zM463 626h1v7h-1zM472 626h2v7h-2zM484 626h1v7h-1zM202 633h1v7h-1zM420 633h1v7h-1z"/>
<path fill="#ef2d00" d="M528 605h1v7h-1zM535 605h1v7h-1zM542 605h1v7h-1zM549 605h2v7h-2zM562 605h1v7h-1zM576 605h2v7h-2zM579 605h1v7h-1zM592 605h1v7h-1zM615 605h1v7h-1zM637 605h1v7h-1zM645 605h2v7h-2zM653 605h1v7h-1zM365 619h1v7h-1zM374 619h1v7h-1zM232 633h1v7h-1zM260 633h1v7h-1zM271 633h1v7h-1zM279 633h2v7h-2zM284 633h1v7h-1zM288 633h1v7h-1zM291 633h4v7h-4zM313 633h1v7h-1zM447 633h1v7h-1zM453 633h1v7h-1zM458 633h2v7h-2zM464 633h1v7h-1zM466 633h1v7h-1zM474 633h2v7h-2zM477 633h1v7h-1zM479 633h1v7h-1zM482 633h1v7h-1zM213 640h1v7h-1zM216 640h1v7h-1zM438 640h1v7h-1zM441 640h1v7h-1z"/>
<path fill="#ff3300" d="M529 605h1v7h-1zM539 605h1v7h-1zM554 605h1v7h-1zM558 605h1v7h-1zM583 605h1v7h-1zM597 605h1v7h-1zM604 605h1v7h-1zM357 619h1v7h-1zM377 619h1v7h-1zM229 633h1v7h-1zM268 633h1v7h-1zM270 633h1v7h-1zM303 633h1v7h-1zM455 633h1v7h-1zM457 633h1v7h-1zM460 633h1v7h-1zM462 633h1v7h-1zM465 633h1v7h-1zM483 633h1v7h-1zM214 640h1v7h-1z"/>
<path fill="#e02600" d="M530 605h1v7h-1zM541 605h1v7h-1zM557 605h1v7h-1zM614 605h1v7h-1zM616 605h1v7h-1zM624 605h3v7h-3zM629 605h1v7h-1zM636 605h1v7h-1zM639 605h1v7h-1zM642 605h1v7h-1zM652 605h1v7h-1zM262 633h1v7h-1zM265 633h2v7h-2zM272 633h1v7h-1zM287 633h1v7h-1zM295 633h1v7h-1zM297 633h1v7h-1zM299 633h1v7h-1zM304 633h2v7h-2zM311 633h1v7h-1zM442 633h2v7h-2zM451 633h1v7h-1zM454 633h1v7h-1zM456 633h1v7h-1zM467 633h1v7h-1zM476 633h1v7h-1zM478 633h1v7h-1zM208 640h1v7h-1zM215 640h1v7h-1zM220 640h1v7h-1zM224 640h1v7h-1z"/>
<path fill="#d02000" d="M533 605h1v7h-1zM540 605h1v7h-1zM544 605h1v7h-1zM565 605h1v7h-1zM580 605h1v7h-1zM631 605h1v7h-1zM633 605h1v7h-1zM638 605h1v7h-1zM640 605h1v7h-1zM644 605h1v7h-1zM650 605h1v7h-1zM658 605h1v7h-1zM358 619h1v7h-1zM364 619h1v7h-1zM230 633h1v7h-1zM264 633h1v7h-1zM267 633h1v7h-1zM277 633h1v7h-1zM286 633h1v7h-1zM296 633h1v7h-1zM298 633h1v7h-1zM301 633h2v7h-2zM307 633h4v7h-4zM444 633h3v7h-3zM448 633h1v7h-1zM452 633h1v7h-1zM468 633h1v7h-1zM185 640h2v7h-2zM206 640h2v7h-2zM209 640h1v7h-1zM217 640h2v7h-2zM226 640h1v7h-1zM434 640h2v7h-2zM437 640h1v7h-1z"/>
<path fill="#b11300" d="M534 605h1v7h-1zM536 605h1v7h-1zM619 605h3v7h-3zM627 605h1v7h-1zM630 605h1v7h-1zM635 605h1v7h-1zM641 605h1v7h-1zM649 605h1v7h-1zM651 605h1v7h-1zM263 633h1v7h-1zM274 633h1v7h-1zM278 633h1v7h-1zM285 633h1v7h-1zM449 633h1v7h-1zM210 640h3v7h-3z"/>
<path fill="#a10d00" d="M537 605h1v7h-1zM618 605h1v7h-1zM622 605h2v7h-2zM647 605h2v7h-2zM655 605h1v7h-1zM273 633h1v7h-1zM221 640h2v7h-2z"/>
<path fill="#c11900" d="M543 605h1v7h-1zM617 605h1v7h-1zM628 605h1v7h-1zM632 605h1v7h-1zM634 605h1v7h-1zM643 605h1v7h-1zM654 605h1v7h-1zM656 605h2v7h-2zM236 633h1v7h-1zM261 633h1v7h-1zM275 633h2v7h-2zM450 633h1v7h-1zM469 633h5v7h-5zM187 640h2v7h-2zM219 640h1v7h-1zM223 640h1v7h-1zM227 640h1v7h-1zM436 640h1v7h-1z"/>
<path fill="#f37a0b" d="M567 605h1v7h-1zM586 605h1v7h-1zM593 605h1v7h-1zM359 619h1v7h-1zM369 619h1v7h-1zM243 633h1v7h-1zM250 633h1v7h-1z"/>
<path fill="#ebaf13" d="M569 605h1v7h-1zM571 605h1v7h-1zM603 605h1v7h-1zM491 612h1v7h-1zM493 612h2v7h-2zM512 612h2v7h-2zM525 612h1v7h-1zM371 619h1v7h-1zM381 619h1v7h-1zM385 619h1v7h-1zM394 619h1v7h-1zM398 619h1v7h-1zM196 633h2v7h-2zM242 633h1v7h-1zM248 633h1v7h-1zM255 633h1v7h-1zM423 633h1v7h-1z"/>
<path fill="#f18c0d" d="M574 605h1v7h-1zM578 605h1v7h-1zM585 605h1v7h-1zM587 605h1v7h-1zM589 605h2v7h-2zM601 605h2v7h-2zM607 605h1v7h-1zM609 605h1v7h-1zM511 612h1v7h-1zM373 619h1v7h-1zM386 619h1v7h-1zM392 619h2v7h-2zM395 619h2v7h-2zM228 633h1v7h-1zM259 633h1v7h-1zM281 633h1v7h-1zM416 633h1v7h-1z"/>
<path fill="#920600" d="M225 640h1v7h-1z"/>
<path fill="#fff" d="M143 844h42v7h-42zM193 844h1v7h-1zM198 844h1v7h-1zM204 844h1v7h-1zM211 844h3v7h-3zM223 844h2v7h-2zM227 844h1v7h-1zM230 844h7v7h-7zM238 844h115v7h-115zM355 844h44v7h-44zM403 844h18v7h-18zM424 844h5v7h-5zM431 844h16v7h-16zM450 844h60v7h-60zM512 844h57v7h-57zM571 844h88v7h-88zM143 837h10v7h-10zM156 837h29v7h-29zM200 837h2v7h-2zM227 837h5v7h-5zM241 837h25v7h-25zM273 837h20v7h-20zM294 837h18v7h-18zM313 837h8v7h-8zM322 837h81v7h-81zM407 837h8v7h-8zM416 837h1v7h-1zM420 837h7v7h-7zM429 837h5v7h-5zM438 837h2v7h-2zM441 837h5v7h-5zM447 837h5v7h-5zM453 837h15v7h-15zM469 837h190v7h-190zM143 830h42v7h-42zM241 830h1v7h-1zM243 830h5v7h-5zM251 830h8v7h-8zM273 830h1v7h-1zM276 830h6v7h-6zM285 830h27v7h-27zM313 830h72v7h-72zM387 830h13v7h-13zM409 830h5v7h-5zM427 830h8v7h-8zM441 830h2v7h-2zM446 830h6v7h-6zM453 830h1v7h-1zM456 830h18v7h-18zM479 830h62v7h-62zM543 830h46v7h-46zM590 830h69v7h-69zM143 823h42v7h-42zM241 823h1v7h-1zM264 823h2v7h-2zM268 823h2v7h-2zM282 823h3v7h-3zM286 823h2v7h-2zM289 823h3v7h-3zM293 823h1v7h-1zM301 823h1v7h-1zM313 823h22v7h-22zM338 823h9v7h-9zM349 823h51v7h-51zM407 823h2v7h-2zM410 823h3v7h-3zM427 823h4v7h-4zM447 823h5v7h-5zM453 823h3v7h-3zM460 823h8v7h-8zM476 823h1v7h-1zM478 823h5v7h-5zM486 823h54v7h-54zM541 823h93v7h-93zM636 823h16v7h-16zM655 823h4v7h-4zM143 816h42v7h-42zM248 816h3v7h-3zM273 816h1v7h-1zM278 816h2v7h-2zM313 816h40v7h-40zM355 816h12v7h-12zM369 816h13v7h-13zM384 816h1v7h-1zM390 816h10v7h-10zM410 816h3v7h-3zM420 816h1v7h-1zM433 816h1v7h-1zM446 816h1v7h-1zM450 816h2v7h-2zM456 816h2v7h-2zM460 816h3v7h-3zM464 816h1v7h-1zM471 816h2v7h-2zM476 816h1v7h-1zM486 816h5v7h-5zM493 816h5v7h-5zM501 816h6v7h-6zM510 816h6v7h-6zM517 816h8v7h-8zM527 816h40v7h-40zM568 816h66v7h-66zM636 816h23v7h-23zM143 809h15v7h-15zM160 809h3v7h-3zM164 809h1v7h-1zM168 809h6v7h-6zM176 809h9v7h-9zM251 809h1v7h-1zM303 809h1v7h-1zM317 809h9v7h-9zM328 809h19v7h-19zM349 809h2v7h-2zM353 809h9v7h-9zM369 809h1v7h-1zM371 809h2v7h-2zM382 809h5v7h-5zM390 809h2v7h-2zM394 809h2v7h-2zM397 809h1v7h-1zM399 809h1v7h-1zM471 809h2v7h-2zM486 809h5v7h-5zM505 809h4v7h-4zM510 809h2v7h-2zM513 809h1v7h-1zM519 809h3v7h-3zM525 809h2v7h-2zM528 809h20v7h-20zM551 809h5v7h-5zM557 809h5v7h-5zM565 809h32v7h-32zM598 809h31v7h-31zM634 809h25v7h-25zM143 802h7v7h-7zM151 802h7v7h-7zM160 802h2v7h-2zM168 802h6v7h-6zM176 802h3v7h-3zM181 802h4v7h-4zM278 802h2v7h-2zM322 802h8v7h-8zM332 802h4v7h-4zM338 802h1v7h-1zM340 802h7v7h-7zM359 802h3v7h-3zM394 802h2v7h-2zM493 802h1v7h-1zM496 802h2v7h-2zM501 802h2v7h-2zM505 802h2v7h-2zM512 802h1v7h-1zM519 802h3v7h-3zM528 802h7v7h-7zM538 802h10v7h-10zM551 802h5v7h-5zM557 802h4v7h-4zM565 802h3v7h-3zM571 802h3v7h-3zM576 802h10v7h-10zM588 802h11v7h-11zM602 802h21v7h-21zM629 802h12v7h-12zM642 802h3v7h-3zM646 802h2v7h-2zM649 802h3v7h-3zM655 802h4v7h-4zM147 795h2v7h-2zM151 795h2v7h-2zM172 795h2v7h-2zM176 795h3v7h-3zM319 795h2v7h-2zM322 795h1v7h-1zM351 795h2v7h-2zM359 795h3v7h-3zM391 795h1v7h-1zM498 795h2v7h-2zM501 795h2v7h-2zM515 795h1v7h-1zM525 795h2v7h-2zM528 795h3v7h-3zM533 795h2v7h-2zM540 795h3v7h-3zM552 795h4v7h-4zM559 795h2v7h-2zM562 795h3v7h-3zM571 795h13v7h-13zM585 795h3v7h-3zM589 795h8v7h-8zM598 795h1v7h-1zM602 795h1v7h-1zM605 795h3v7h-3zM609 795h1v7h-1zM612 795h11v7h-11zM626 795h3v7h-3zM634 795h5v7h-5zM641 795h3v7h-3zM645 795h4v7h-4zM651 795h1v7h-1zM655 795h4v7h-4zM144 788h2v7h-2zM156 788h2v7h-2zM489 788h2v7h-2zM519 788h1v7h-1zM538 788h2v7h-2zM541 788h2v7h-2zM548 788h3v7h-3zM552 788h2v7h-2zM559 788h2v7h-2zM562 788h3v7h-3zM567 788h1v7h-1zM578 788h2v7h-2zM584 788h6v7h-6zM591 788h1v7h-1zM593 788h2v7h-2zM598 788h1v7h-1zM602 788h1v7h-1zM606 788h2v7h-2zM609 788h1v7h-1zM636 788h3v7h-3zM642 788h2v7h-2zM645 788h3v7h-3zM649 788h2v7h-2zM652 788h3v7h-3zM172 781h2v7h-2zM370 781h1v7h-1zM463 781h1v7h-1zM525 781h2v7h-2zM543 781h3v7h-3zM551 781h1v7h-1zM556 781h1v7h-1zM567 781h1v7h-1zM585 781h3v7h-3zM605 781h1v7h-1zM610 781h2v7h-2zM616 781h2v7h-2zM626 781h3v7h-3zM642 781h2v7h-2zM646 781h5v7h-5zM557 774h2v7h-2zM565 774h1v7h-1zM571 774h5v7h-5zM586 774h2v7h-2zM589 774h1v7h-1zM595 774h2v7h-2zM598 774h4v7h-4zM606 774h2v7h-2zM648 774h1v7h-1zM651 774h1v7h-1zM655 774h4v7h-4zM464 767h1v7h-1zM531 767h2v7h-2zM543 767h3v7h-3zM559 767h2v7h-2zM565 767h1v7h-1zM567 767h1v7h-1zM574 767h2v7h-2zM580 767h1v7h-1zM589 767h1v7h-1zM609 767h1v7h-1zM632 767h4v7h-4zM642 767h2v7h-2zM645 767h3v7h-3zM541 760h2v7h-2zM567 760h1v7h-1zM576 760h2v7h-2zM581 760h3v7h-3zM589 760h2v7h-2zM592 760h1v7h-1zM636 760h3v7h-3zM514 753h1v7h-1zM535 753h5v7h-5zM589 753h1v7h-1zM598 753h4v7h-4zM610 753h2v7h-2zM637 753h2v7h-2zM528 745h3v8h-3zM548 745h3v8h-3zM567 745h1v8h-1zM578 745h2v8h-2zM641 731h1v7h-1zM645 731h1v7h-1zM597 724h1v7h-1z"/>
<path fill="#000" d="M657 844h1v7h-1zM657 837h1v7h-1zM657 830h1v7h-1zM657 823h1v7h-1zM657 816h1v7h-1zM657 809h1v7h-1zM657 802h1v7h-1zM657 795h1v7h-1zM657 774h1v7h-1z"/>
<rect x="661" y="562" width="34" height="289" fill="url(#cb)"/>
<path fill="#000" d="M141 562h2v289h-2zM141 849h517v2h-517zM143 565h14v2h-14zM143 572h7v2h-7zM143 579h7v2h-7zM143 586h7v2h-7zM143 593h7v2h-7zM143 600h14v2h-14zM143 607h7v2h-7zM143 614h7v2h-7zM143 621h7v2h-7zM143 628h7v2h-7zM143 635h14v2h-14zM143 642h7v2h-7zM143 649h7v2h-7zM143 656h7v2h-7zM143 663h7v2h-7zM143 670h14v2h-14zM143 677h7v2h-7zM143 684h7v2h-7zM143 691h7v2h-7zM143 698h7v2h-7zM143 705h14v2h-14zM143 712h7v2h-7zM143 719h7v2h-7zM143 726h7v2h-7zM143 733h7v2h-7zM143 740h14v2h-14zM143 747h7v2h-7zM143 754h7v2h-7zM143 761h7v2h-7zM143 768h7v2h-7zM143 775h14v2h-14zM143 782h7v2h-7zM143 789h7v2h-7zM143 796h7v2h-7zM143 803h7v2h-7zM143 810h14v2h-14zM143 817h7v2h-7zM143 824h7v2h-7zM143 831h7v2h-7zM143 838h7v2h-7zM143 845h14v2h-14zM158 845h2v4h-2zM175 845h2v4h-2zM191 845h2v4h-2zM208 841h2v8h-2zM225 845h2v4h-2zM242 845h2v4h-2zM259 845h2v4h-2zM275 841h2v8h-2zM292 845h2v4h-2zM309 845h2v4h-2zM326 845h2v4h-2zM343 841h2v8h-2zM359 845h2v4h-2zM376 845h2v4h-2zM393 845h2v4h-2zM410 841h2v8h-2zM427 845h2v4h-2zM443 845h2v4h-2zM460 845h2v4h-2zM477 841h2v8h-2zM494 845h2v4h-2zM511 845h2v4h-2zM527 845h2v4h-2zM544 841h2v8h-2zM561 845h2v4h-2zM578 845h2v4h-2zM595 845h2v4h-2zM611 841h2v8h-2zM628 845h2v4h-2zM645 845h2v4h-2zM693 562h2v289h-2zM678 849h15v2h-15zM678 813h15v2h-15zM678 778h15v2h-15zM678 742h15v2h-15zM678 706h15v2h-15zM678 670h15v2h-15zM678 634h15v2h-15zM678 599h15v2h-15zM678 563h15v2h-15z"/>
</svg>
<div class="t" style="left:115.78px;top:526px;font-size:15.6px;line-height:18px;height:18px;letter-spacing:0.000px;font-weight:bold;transform:scaleX(1.07);transform-origin:0 0;">Energy 12.40 keV</div>
<div class="t" style="left:504.12px;top:877px;font-size:15.6px;line-height:18px;height:18px;letter-spacing:0.000px;font-weight:bold;transform:scaleX(1.062);transform-origin:0 0;">Channel Number</div>
<div class="t" style="left:79.7px;top:613px;font-size:15.6px;font-weight:bold;line-height:18px;height:18px;letter-spacing:0;transform:translate(-50%,-50%) rotate(-90deg) scaleX(1.06);">Threshold</div>
<div class="t" style="left:113.19px;top:561px;font-size:11.6px;line-height:14px;height:14px;letter-spacing:0.000px;font-weight:bold;transform:scaleX(1.05);transform-origin:0 0;">850</div>
<div class="t" style="left:113.19px;top:596px;font-size:11.6px;line-height:14px;height:14px;letter-spacing:0.000px;font-weight:bold;transform:scaleX(1.05);transform-origin:0 0;">800</div>
<div class="t" style="left:113.05px;top:631px;font-size:11.6px;line-height:14px;height:14px;letter-spacing:0.000px;font-weight:bold;transform:scaleX(1.05);transform-origin:0 0;">750</div>
<div class="t" style="left:113.05px;top:666px;font-size:11.6px;line-height:14px;height:14px;letter-spacing:0.000px;font-weight:bold;transform:scaleX(1.05);transform-origin:0 0;">700</div>
<div class="t" style="left:113.13px;top:701px;font-size:11.6px;line-height:14px;height:14px;letter-spacing:0.000px;font-weight:bold;transform:scaleX(1.05);transform-origin:0 0;">650</div>
<div class="t" style="left:113.13px;top:736px;font-size:11.6px;line-height:14px;height:14px;letter-spacing:0.000px;font-weight:bold;transform:scaleX(1.05);transform-origin:0 0;">600</div>
<div class="t" style="left:113.20px;top:771px;font-size:11.6px;line-height:14px;height:14px;letter-spacing:0.000px;font-weight:bold;transform:scaleX(1.05);transform-origin:0 0;">550</div>
<div class="t" style="left:113.20px;top:806px;font-size:11.6px;line-height:14px;height:14px;letter-spacing:0.000px;font-weight:bold;transform:scaleX(1.05);transform-origin:0 0;">500</div>
<div class="t" style="left:113.39px;top:841px;font-size:11.6px;line-height:14px;height:14px;letter-spacing:0.000px;font-weight:bold;transform:scaleX(1.05);transform-origin:0 0;">450</div>
<div class="t" style="left:137.93px;top:854px;font-size:11.6px;line-height:14px;height:14px;letter-spacing:0.000px;font-weight:bold;transform:scaleX(1.05);transform-origin:0 0;">0</div>
<div class="t" style="left:192.52px;top:854px;font-size:11.6px;line-height:14px;height:14px;letter-spacing:0.000px;font-weight:bold;transform:scaleX(1.05);transform-origin:0 0;">2000</div>
<div class="t" style="left:259.94px;top:854px;font-size:11.6px;line-height:14px;height:14px;letter-spacing:0.000px;font-weight:bold;transform:scaleX(1.05);transform-origin:0 0;">4000</div>
<div class="t" style="left:326.87px;top:854px;font-size:11.6px;line-height:14px;height:14px;letter-spacing:0.000px;font-weight:bold;transform:scaleX(1.05);transform-origin:0 0;">6000</div>
<div class="t" style="left:394.12px;top:854px;font-size:11.6px;line-height:14px;height:14px;letter-spacing:0.000px;font-weight:bold;transform:scaleX(1.05);transform-origin:0 0;">8000</div>
<div class="t" style="left:456.74px;top:854px;font-size:11.6px;line-height:14px;height:14px;letter-spacing:0.000px;font-weight:bold;transform:scaleX(1.05);transform-origin:0 0;">10000</div>
<div class="t" style="left:523.92px;top:854px;font-size:11.6px;line-height:14px;height:14px;letter-spacing:0.000px;font-weight:bold;transform:scaleX(1.05);transform-origin:0 0;">12000</div>
<div class="t" style="left:591.11px;top:854px;font-size:11.6px;line-height:14px;height:14px;letter-spacing:0.000px;font-weight:bold;transform:scaleX(1.05);transform-origin:0 0;">14000</div>
<div class="t" style="left:698.42px;top:845px;font-size:11.6px;line-height:14px;height:14px;letter-spacing:0.000px;font-weight:bold;transform:scaleX(1.05);transform-origin:0 0;">0</div>
<div class="t" style="left:698.13px;top:809px;font-size:11.6px;line-height:14px;height:14px;letter-spacing:0.000px;font-weight:bold;transform:scaleX(1.05);transform-origin:0 0;">1000</div>
<div class="t" style="left:698.48px;top:773px;font-size:11.6px;line-height:14px;height:14px;letter-spacing:0.000px;font-weight:bold;transform:scaleX(1.05);transform-origin:0 0;">2000</div>
<div class="t" style="left:698.62px;top:738px;font-size:11.6px;line-height:14px;height:14px;letter-spacing:0.000px;font-weight:bold;transform:scaleX(1.05);transform-origin:0 0;">3000</div>
<div class="t" style="left:698.72px;top:702px;font-size:11.6px;line-height:14px;height:14px;letter-spacing:0.000px;font-weight:bold;transform:scaleX(1.05);transform-origin:0 0;">4000</div>
<div class="t" style="left:698.53px;top:666px;font-size:11.6px;line-height:14px;height:14px;letter-spacing:0.000px;font-weight:bold;transform:scaleX(1.05);transform-origin:0 0;">5000</div>
<div class="t" style="left:698.45px;top:631px;font-size:11.6px;line-height:14px;height:14px;letter-spacing:0.000px;font-weight:bold;transform:scaleX(1.05);transform-origin:0 0;">6000</div>
<div class="t" style="left:698.38px;top:595px;font-size:11.6px;line-height:14px;height:14px;letter-spacing:0.000px;font-weight:bold;transform:scaleX(1.05);transform-origin:0 0;">7000</div>
<div class="t" style="left:698.51px;top:559px;font-size:11.6px;line-height:14px;height:14px;letter-spacing:0.000px;font-weight:bold;transform:scaleX(1.05);transform-origin:0 0;">8000</div>
<svg style="position:absolute;left:690px;top:550px" width="20" height="16"><path d="M4.5 8.5H15M7.5 5.5L4.5 8.5L7.5 11.5M12.5 5.5L15.3 8.5L12.5 11.5" fill="none" stroke="#222" stroke-width="0.9"/></svg>
<div class="t" style="left:703.04px;top:552px;font-size:10.4px;line-height:12px;height:12px;letter-spacing:0.600px;font-weight:bold;">10</div>
<div class="t" style="left:717.88px;top:544px;font-size:9.5px;line-height:11px;height:11px;letter-spacing:0.000px;font-weight:bold;">3</div>
<div class="btn " style="left:39px;top:954px;width:180px;height:25px"></div>
<div class="btn " style="left:219px;top:954px;width:58px;height:25px"></div>
<div class="btn " style="left:277px;top:954px;width:31px;height:25px"></div>
<div class="t" style="left:42.92px;top:961px;font-size:12px;line-height:14px;height:14px;letter-spacing:0.162px;"><u>P</u>roceed to Modules Calibration</div>
<div class="t dis" style="left:223.02px;top:961px;font-size:12px;line-height:14px;height:14px;letter-spacing:0.215px;"><u>F</u>inished</div>
<div class="t" style="left:280.82px;top:961px;font-size:12px;line-height:14px;height:14px;letter-spacing:0.009px;"><u>E</u>xit</div>
</div></body></html>
